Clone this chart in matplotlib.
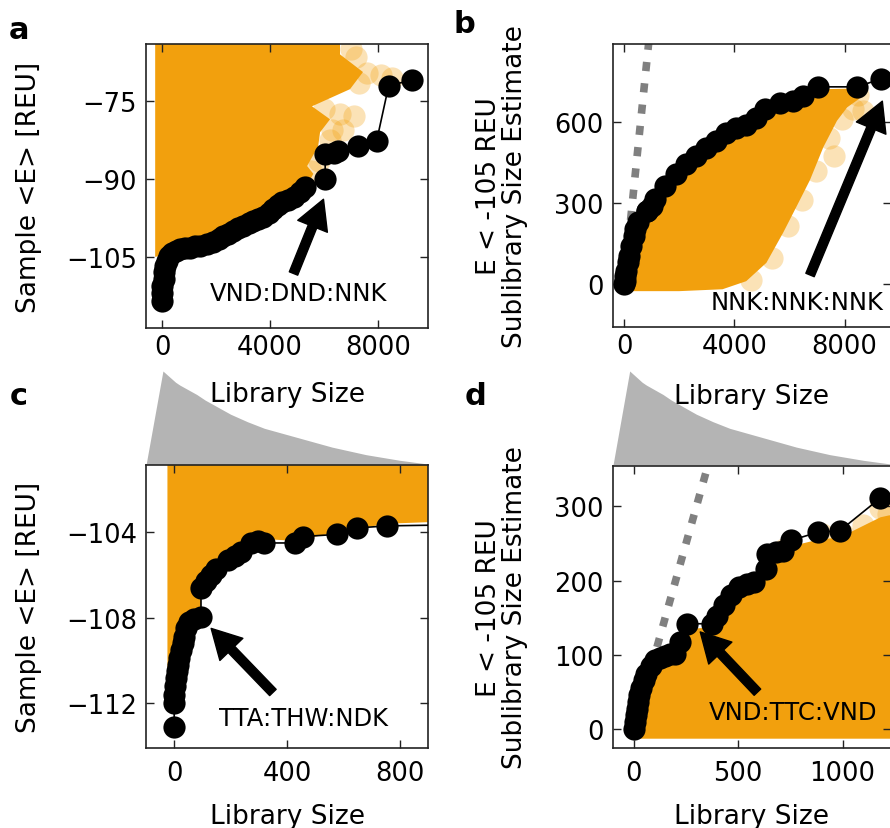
import matplotlib.pyplot as plt

ORANGE = '#f2a00d'
GRAY = '#b4b4b4'

# --- a: sample <E> vs library size (best library per size) ---
a_size = [0, 0, 0, 50, 50, 110, 170, 235, 360, 500, 670, 850, 1040, 1220, 1410,
          1650, 1900, 2100, 2270, 2450, 2640, 2820, 3010, 3200, 3380, 3560, 3750,
          3950, 4120, 4280, 4430, 4650, 4870, 5100, 5300, 6040, 6040, 6350, 6530,
          7270, 7950, 8390, 9250]
a_energy = [-113.5, -111.9, -110.6, -109.3, -108.0, -106.7, -105.8, -104.8, -104.2,
            -103.8, -103.5, -103.3, -103.2, -103.0, -102.9, -102.6, -102.2, -101.5,
            -100.9, -100.5, -100.0, -99.5, -99.0, -98.5, -98.0, -97.7, -97.4, -96.6,
            -95.8, -95.1, -94.5, -94.0, -93.5, -92.5, -91.6, -90.0, -85.2, -84.9,
            -84.7, -83.6, -82.6, -72.1, -70.9]
a_cloud_x = [-260, -260, 150, 670, 1400, 1900, 2640, 3380, 3750, 4430, 4870, 5300,
             5600, 5370, 5780, 5850, 6220, 5550, 6960, 7440, 6590, 6590]
a_cloud_y = [-60, -105, -104.5, -103.7, -103.2, -102.5, -100.3, -98.3, -97.7, -94.8,
             -93.8, -91.9, -89.0, -87.5, -83.7, -81.0, -78.5, -76.0, -72.7, -69.4,
             -66.0, -60]
a_sparse_x = [7000, 7200, 7600, 8100, 8500, 7300, 6000, 6600, 7100, 6300, 6700,
              6200, 5800, 5500]
a_sparse_y = [-65.0, -66.5, -69.5, -70.0, -70.5, -71.5, -76.5, -77.5, -77.8, -80.5,
              -80.5, -82.5, -86.5, -88.5]

# --- b: sublibrary size estimate (E < -105 REU) vs library size ---
b_size = [0, 40, 40, 75, 135, 185, 260, 345, 400, 495, 830, 830, 1000, 1130, 1500,
          1870, 2230, 2600, 2960, 3330, 3700, 4060, 4430, 4790, 5100, 5650, 6130,
          6500, 7050, 8450, 9300]
b_estimate = [0, 12, 31, 49, 80, 105, 142, 178, 203, 228, 271, 271, 290, 314, 363,
              407, 444, 474, 505, 530, 561, 579, 591, 616, 647, 671, 678, 696, 731,
              731, 760]
b_cloud_x = [-150, 0, 2000, 3570, 4430, 5160, 5770, 6260, 6740, 7230, 7720, 8090,
             8570, 8450, 7050, 6500, 6130, 5650, 5100, 4430, 3700, 2960, 2230, 1500,
             770, 340, 100, 0]
b_cloud_y = [0, -27, -27, -20, 10, 78, 190, 288, 385, 508, 605, 655, 690, 725, 722,
             688, 668, 660, 635, 580, 550, 495, 434, 352, 262, 180, 55, -5]
b_sparse_x = [4600, 5350, 5950, 6450, 6950, 7600, 7450, 7900, 8300, 8650, 8500]
b_sparse_y = [15, 95, 215, 310, 420, 474, 540, 610, 650, 640, 700]

# --- c: zoom on small libraries, sample <E> ---
c_size = [0, 0, 0, 2, 6, 9, 12, 18, 24, 30, 36, 42, 53, 71, 95, 95, 113, 131, 148,
          190, 214, 237, 273, 297, 320, 427, 457, 576, 647, 754, 1000]
c_energy = [-113.1, -112.0, -111.6, -111.2, -110.8, -110.5, -110.2, -109.9, -109.5,
            -109.2, -108.9, -108.5, -108.2, -108.05, -107.95, -106.6, -106.3, -106.0,
            -105.7, -105.3, -105.1, -104.9, -104.5, -104.4, -104.5, -104.5, -104.2,
            -104.1, -103.8, -103.7, -103.65]
c_cloud_x = [-24, -24, 0, 10, 25, 45, 70, 95, 95, 131, 190, 237, 297, 427, 576, 754,
             950, 950]
c_cloud_y = [-100.5, -112.4, -112.2, -110.4, -109.4, -108.4, -107.9, -107.7, -106.5,
             -105.9, -105.2, -104.8, -104.3, -104.4, -104.0, -103.6, -103.5, -100.5]

# --- d: zoom on small libraries, sublibrary size estimate ---
d_size = [0, 4, 8, 13, 19, 26, 32, 48, 60, 84, 100, 124, 148, 172, 197, 221, 253,
          374, 398, 431, 463, 503, 540, 576, 632, 640, 680, 713, 753, 882, 987, 1181,
          1300]
d_estimate = [0, 10, 19, 28, 37, 46, 55, 66, 74, 85, 93, 96, 99, 101, 102, 117, 142,
              142, 153, 167, 180, 191, 195, 198, 216, 236, 238, 240, 254, 265, 267,
              311, 312]
d_cloud_x = [-25, -25, 0, 60, 148, 197, 253, 374, 431, 503, 576, 640, 753, 882, 987,
             1181, 1260, 1260]
d_cloud_y = [-12.5, 0, 0, 78, 95, 98, 135, 137, 160, 185, 190, 228, 246, 255, 258,
             285, 290, -12.5]
d_sparse_x = [1000, 1180, 1220, 1230, 900, 720, 1100]
d_sparse_y = [262, 298, 290, 270, 262, 242, 275]

identity = [0, 12000]

# size distribution drawn above the zoomed panels
dist_pos = [0, 0.06, 0.075, 0.09, 0.105, 0.12, 0.15, 0.18, 0.21, 0.24, 0.27, 0.30,
            0.36, 0.42, 0.48, 0.54, 0.60, 0.66, 0.72, 0.78, 0.84, 0.90, 0.95, 1.0]
dist_height = [0, 1.0, 0.96, 0.92, 0.88, 0.85, 0.80, 0.75, 0.69, 0.64, 0.59, 0.54,
               0.46, 0.39, 0.34, 0.29, 0.24, 0.19, 0.15, 0.11, 0.08, 0.05, 0.03, 0.01]

plt.rcParams['font.family'] = 'DejaVu Sans'
plt.rcParams['axes.linewidth'] = 1.2
plt.rcParams['axes.edgecolor'] = '#222222'

fig = plt.figure(figsize=(8.9, 8.29), dpi=100)

W = 890.0
H = 829.0


def box(left, top, right, bottom):
    return [left / W, 1 - bottom / H, (right - left) / W, (bottom - top) / H]


# gray distribution shapes go first so the axis labels sit on top of them
for left, right in [(146, 428), (613, 891)]:
    g = fig.add_axes(box(left, 372, right, 466))
    g.fill_between(dist_pos, 0, dist_height, color=GRAY, lw=0)
    g.set_xlim(0, 1)
    g.set_ylim(0, 1)
    g.axis('off')

ax_a = fig.add_axes(box(146, 45, 428, 329))
ax_b = fig.add_axes(box(613, 45, 891, 328))
ax_c = fig.add_axes(box(146, 466, 428, 749))
ax_d = fig.add_axes(box(613, 467, 891, 749))

ARROW = dict(facecolor='black', edgecolor='black', width=6.5, headwidth=23,
             headlength=21, shrink=0)


def style(ax, xpad):
    ax.tick_params(direction='in', top=True, right=True, length=6, width=1,
                   labelsize=18.5, color='#222222')
    ax.tick_params(axis='x', pad=xpad)
    ax.tick_params(axis='y', pad=6.5)


def frontier(ax, x, y):
    ax.plot(x, y, '-', color='black', lw=1.2, zorder=3)
    ax.plot(x, y, 'o', color='black', ms=16, mec='none', zorder=4)


# a
ax_a.fill(a_cloud_x, a_cloud_y, color=ORANGE, lw=0, zorder=1)
ax_a.plot(a_sparse_x, a_sparse_y, 'o', color=ORANGE, alpha=0.3, ms=16, mec='none', zorder=1)
frontier(ax_a, a_size, a_energy)
ax_a.annotate('', xy=(5977, -93.9), xytext=(4866, -108.2), arrowprops=ARROW, zorder=5)
ax_a.text(5050, -111.9, 'VND:DND:NNK', ha='center', va='center', fontsize=17.5)
ax_a.set_xlim(-600, 9850)
ax_a.set_ylim(-118.7, -64)
ax_a.set_xticks([0, 4000, 8000])
ax_a.set_yticks([-105, -90, -75])
style(ax_a, 4)

# b
ax_b.fill(b_cloud_x, b_cloud_y, color=ORANGE, lw=0, zorder=1)
ax_b.plot(b_sparse_x, b_sparse_y, 'o', color=ORANGE, alpha=0.3, ms=16, mec='none', zorder=1)
ax_b.plot(identity, identity, color='gray', lw=5.5, dashes=(1.2, 1.6), zorder=2)
frontier(ax_b, b_size, b_estimate)
ax_b.annotate('', xy=(9366, 678), xytext=(6744, 33), arrowprops=ARROW, zorder=5)
ax_b.text(6256, -68, 'NNK:NNK:NNK', ha='center', va='center', fontsize=17.5)
ax_b.set_xlim(-400, 9680)
ax_b.set_ylim(-160, 890)
ax_b.set_xticks([0, 4000, 8000])
ax_b.set_yticks([0, 300, 600])
style(ax_b, 4)

# c
ax_c.fill(c_cloud_x, c_cloud_y, color=ORANGE, lw=0, zorder=1)
frontier(ax_c, c_size, c_energy)
ax_c.annotate('', xy=(131, -108.5), xytext=(350, -111.5), arrowprops=ARROW, zorder=5)
ax_c.text(459, -112.7, 'TTA:THW:NDK', ha='center', va='center', fontsize=17.5)
ax_c.set_xlim(-100, 900)
ax_c.set_ylim(-114.1, -100.85)
ax_c.set_xticks([0, 400, 800])
ax_c.set_yticks([-112, -108, -104])
style(ax_c, 9)

# d
ax_d.fill(d_cloud_x, d_cloud_y, color=ORANGE, lw=0, zorder=1)
ax_d.plot(d_sparse_x, d_sparse_y, 'o', color=ORANGE, alpha=0.3, ms=16, mec='none', zorder=1)
ax_d.plot(identity, identity, color='gray', lw=5.5, dashes=(1.2, 1.6), zorder=2)
frontier(ax_d, d_size, d_estimate)
ax_d.annotate('', xy=(318, 131), xytext=(592, 50), arrowprops=ARROW, zorder=5)
ax_d.text(765, 23, 'VND:TTC:VND', ha='center', va='center', fontsize=17.5)
ax_d.set_xlim(-100, 1232)
ax_d.set_ylim(-25, 354)
ax_d.set_xticks([0, 500, 1000])
ax_d.set_yticks([0, 100, 200, 300])
style(ax_d, 9)

# axis labels
for ax, xl_y in [(ax_a, -0.187), (ax_b, -0.198), (ax_c, -0.196), (ax_d, -0.196)]:
    ax.set_xlabel('Library Size', fontsize=19)
    ax.xaxis.set_label_coords(0.5, xl_y)
for ax in (ax_a, ax_c):
    ax.set_ylabel('Sample <E> [REU]', fontsize=19)
    ax.yaxis.set_label_coords(-0.369, 0.5)
for ax in (ax_b, ax_d):
    ax.set_ylabel('E < -105 REU\nSublibrary Size Estimate', fontsize=19,
                  linespacing=1.0)
    ax.yaxis.set_label_coords(-0.305, 0.5)

# panel letters
for letter, x, y in [('a', 9, 39), ('b', 453, 33), ('c', 10, 405), ('d', 465, 405)]:
    fig.text(x / W, 1 - y / H, letter, fontsize=22, fontweight='bold', va='baseline')

fig.savefig('out.png', dpi=100)
